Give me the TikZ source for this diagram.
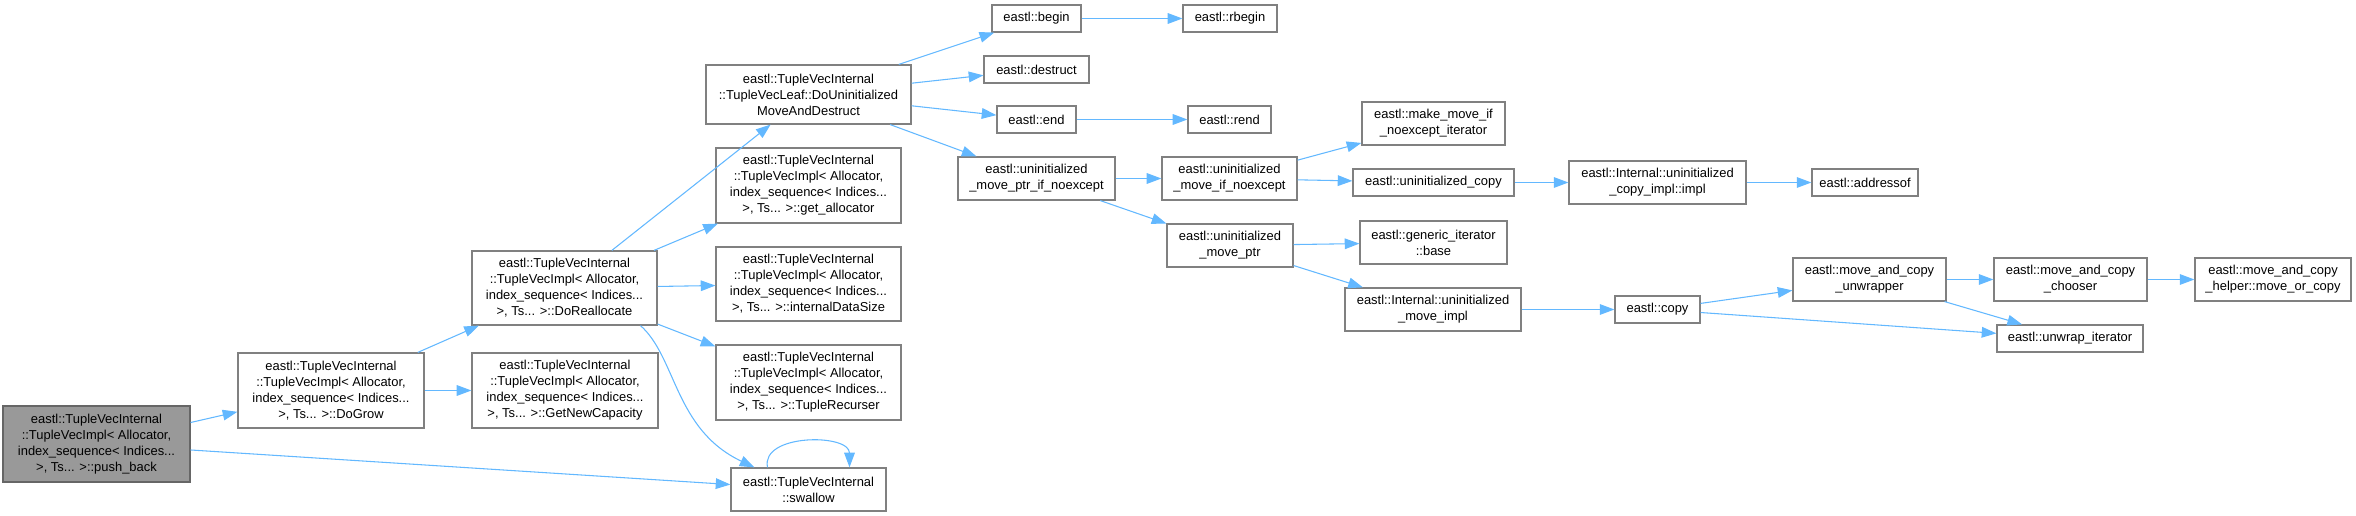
\documentclass[tikz,border=0pt]{standalone}
\usepackage{fontspec}
\setmainfont{Liberation Sans}
\usetikzlibrary{arrows.meta,calc}
\definecolor{edgec}{HTML}{63B8FF}
\definecolor{boxline}{HTML}{808080}
\definecolor{rootfill}{HTML}{999999}
\definecolor{rootline}{HTML}{666666}
\tikzset{
  box/.style={draw=boxline, line width=0.9pt, fill=white, inner sep=0pt, align=center,
    font=\fontsize{9.7}{12}\selectfont},
  rootbox/.style={fill=rootfill, draw=rootline},
  edge/.style={draw=edgec, line width=0.8pt, -{Triangle[length=11pt,width=8pt]}},
}
\newcommand{\bx}[7][]{%
  \node[box,#1,minimum width={(#5-#3)*0.75pt},minimum height={(#6-#4)*0.75pt}]
    (#2) at ({(#3+#5)/2},{(#4+#6)/2}) {#7};}
\begin{document}
\begin{tikzpicture}[x=0.75pt,y=-0.75pt]
\useasboundingbox (0,0) rectangle (2356,516);
\bx[rootbox]{pb}{3}{406}{190}{482}{eastl::TupleVecInternal\\::TupleVecImpl< Allocator,\\ index\_sequence< Indices...\\>, Ts... >::push\_back}
\bx{grow}{238}{353}{424}{428}{eastl::TupleVecInternal\\::TupleVecImpl< Allocator,\\ index\_sequence< Indices...\\>, Ts... >::DoGrow}
\bx{getnew}{472}{353}{658}{428}{eastl::TupleVecInternal\\::TupleVecImpl< Allocator,\\ index\_sequence< Indices...\\>, Ts... >::GetNewCapacity}
\bx{realloc}{472}{251}{657}{325}{eastl::TupleVecInternal\\::TupleVecImpl< Allocator,\\ index\_sequence< Indices...\\>, Ts... >::DoReallocate}
\bx{dumad}{706}{65}{911}{124}{eastl::TupleVecInternal\\::TupleVecLeaf::DoUninitialized\\MoveAndDestruct}
\bx{getalloc}{716}{148}{901}{223}{eastl::TupleVecInternal\\::TupleVecImpl< Allocator,\\ index\_sequence< Indices...\\>, Ts... >::get\_allocator}
\bx{ids}{716}{247}{901}{321}{eastl::TupleVecInternal\\::TupleVecImpl< Allocator,\\ index\_sequence< Indices...\\>, Ts... >::internalDataSize}
\bx{trec}{716}{345}{901}{420}{eastl::TupleVecInternal\\::TupleVecImpl< Allocator,\\ index\_sequence< Indices...\\>, Ts... >::TupleRecurser}
\bx{swallow}{731}{468}{886}{511}{eastl::TupleVecInternal\\::swallow}
\bx{begin}{992}{5}{1081}{32}{eastl::begin}
\bx{rbegin}{1183}{5}{1277}{32}{eastl::rbegin}
\bx{destruct}{984}{56}{1089}{83}{eastl::destruct}
\bx{endn}{997}{106}{1076}{133}{eastl::end}
\bx{rend}{1188}{106}{1271}{133}{eastl::rend}
\bx{umpin}{958}{157}{1115}{200}{eastl::uninitialized\\\_move\_ptr\_if\_noexcept}
\bx{umin}{1162}{157}{1297}{200}{eastl::uninitialized\\\_move\_if\_noexcept}
\bx{ump}{1167}{224}{1293}{267}{eastl::uninitialized\\\_move\_ptr}
\bx{mmi}{1362}{102}{1505}{145}{eastl::make\_move\_if\\\_noexcept\_iterator}
\bx{ucopy}{1353}{169}{1514}{196}{eastl::uninitialized\_copy}
\bx{ucimpl}{1569}{161}{1746}{204}{eastl::Internal::uninitialized\\\_copy\_impl::impl}
\bx{addr}{1812}{169}{1918}{196}{eastl::addressof}
\bx{gib}{1360}{221}{1507}{264}{eastl::generic\_iterator\\::base}
\bx{umimpl}{1345}{288}{1521}{331}{eastl::Internal::uninitialized\\\_move\_impl}
\bx{copy}{1615}{296}{1700}{323}{eastl::copy}
\bx{unwr}{1793}{258}{1946}{301}{eastl::move\_and\_copy\\\_unwrapper}
\bx{chooser}{1994}{258}{2147}{301}{eastl::move\_and\_copy\\\_chooser}
\bx{helper}{2195}{258}{2351}{301}{eastl::move\_and\_copy\\\_helper::move\_or\_copy}
\bx{unwit}{1997}{325}{2143}{352}{eastl::unwrap\_iterator}

\draw[edge] (pb) -- (grow);
\draw[edge] (pb) -- (swallow);
\draw[edge] (grow) -- (realloc);
\draw[edge] (grow) -- (getnew);
\draw[edge] (realloc) -- (dumad);
\draw[edge] (realloc) -- (getalloc);
\draw[edge] (realloc) -- (ids);
\draw[edge] (realloc) -- (trec);
\draw[edge] ($(realloc.south)+(76,0)$) .. controls ($(realloc.south)+(112,32)$) and ($(swallow.north west)+(-56,-38)$) .. ($(swallow.north west)+(24,0)$);
\draw[edge] ($(swallow.north)+(-41,0)$) .. controls ($(swallow.north)+(-48,-34)$) and ($(swallow.north)+(41,-34)$) .. ($(swallow.north)+(41,0)$);
\draw[edge] (dumad) -- (begin);
\draw[edge] (dumad) -- (destruct);
\draw[edge] (dumad) -- (endn);
\draw[edge] (dumad) -- (umpin);
\draw[edge] (begin) -- (rbegin);
\draw[edge] (endn) -- (rend);
\draw[edge] (umpin) -- (umin);
\draw[edge] (umpin) -- (ump);
\draw[edge] (umin) -- (mmi);
\draw[edge] (umin) -- (ucopy);
\draw[edge] (ump) -- (gib);
\draw[edge] (ump) -- (umimpl);
\draw[edge] (ucopy) -- (ucimpl);
\draw[edge] (ucimpl) -- (addr);
\draw[edge] (umimpl) -- (copy);
\draw[edge] (copy) -- (unwr);
\draw[edge] (copy) -- (unwit);
\draw[edge] (unwr) -- (chooser);
\draw[edge] (unwr) -- (unwit);
\draw[edge] (chooser) -- (helper);
\end{tikzpicture}
\end{document}
